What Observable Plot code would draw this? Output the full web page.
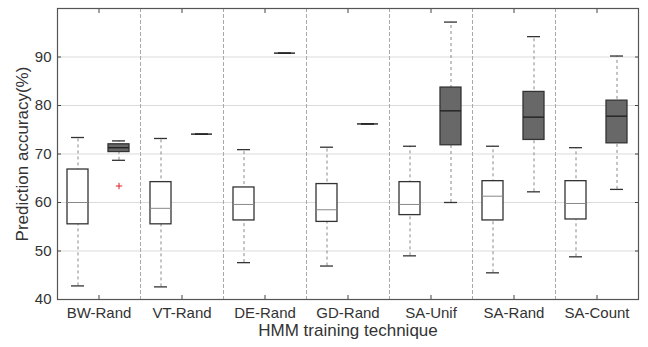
<!DOCTYPE html>
<html>
<head>
<meta charset="utf-8">
<script src="https://cdn.jsdelivr.net/npm/d3@7"></script>
<script src="https://cdn.jsdelivr.net/npm/@observablehq/plot@0.6"></script>
<style>
  html, body { margin: 0; padding: 0; background: #fff; }
  #chart { width: 648px; height: 347px; }
</style>
</head>
<body>
<div id="chart"></div>
<script>
// Training techniques along the horizontal axis
const techniques = ["BW-Rand", "VT-Rand", "DE-Rand", "GD-Rand", "SA-Unif", "SA-Rand", "SA-Count"];

// Open boxes: whisker low, lower quartile, median, upper quartile, whisker high
const openLow    = [42.8, 42.6, 47.6, 46.9, 49.0, 45.5, 48.8];
const openQ1     = [55.5, 55.5, 56.3, 56.0, 57.4, 56.3, 56.5];
const openMedian = [60.0, 58.8, 59.6, 58.5, 59.6, 61.3, 59.8];
const openQ3     = [66.8, 64.2, 63.1, 63.8, 64.2, 64.4, 64.4];
const openHigh   = [73.4, 73.2, 70.9, 71.4, 71.6, 71.6, 71.3];

// Shaded boxes
const shadedLow    = [68.7, 74.1, 90.8, 76.2, 60.0, 62.2, 62.7];
const shadedQ1     = [70.4, 74.1, 90.8, 76.2, 71.8, 72.9, 72.2];
const shadedMedian = [71.3, 74.1, 90.8, 76.2, 78.9, 77.6, 77.8];
const shadedQ3     = [72.0, 74.1, 90.8, 76.2, 83.7, 82.8, 81.0];
const shadedHigh   = [72.7, 74.1, 90.8, 76.2, 97.2, 94.2, 90.2];

// Outliers beyond the whiskers
const outlierTechnique = ["BW-Rand"];
const outlierSeries    = ["shaded"];
const outlierValue     = [63.4];

const yTicks = [40, 50, 60, 70, 80, 90];
const yGrid  = [50, 60, 70, 80, 90];

const summarize = (series, low, q1, median, q3, high) =>
  techniques.map((technique, i) => ({
    technique, series, low: low[i], q1: q1[i], median: median[i], q3: q3[i], high: high[i]
  }));

const openRows   = summarize("open", openLow, openQ1, openMedian, openQ3, openHigh);
const shadedRows = summarize("shaded", shadedLow, shadedQ1, shadedMedian, shadedQ3, shadedHigh);
const allRows = openRows.concat(shadedRows);
const outliers = outlierValue.map((value, i) => ({
  technique: outlierTechnique[i], series: outlierSeries[i], value
}));

const ink = "#333";
const box = (rows, fill, medianStroke, medianWidth) => [
  Plot.barY(rows, {fx: "technique", x: "series", y1: "q1", y2: "q3",
    fill, stroke: ink, strokeWidth: 1.3}),
  Plot.tickY(rows, {fx: "technique", x: "series", y: "median",
    stroke: medianStroke, strokeWidth: medianWidth})
];

const chart = Plot.plot({
  width: 648,
  height: 347,
  marginLeft: 55,
  marginRight: 9,
  marginTop: 8,
  marginBottom: 48,
  style: {fontFamily: "'Liberation Sans', Arial, sans-serif", fontSize: "15px", color: ink, background: "#fff"},
  fx: {domain: techniques, padding: 0, label: null},
  x: {domain: ["open", "shaded"], paddingInner: 0.476, paddingOuter: 0.23, axis: null},
  y: {domain: [40, 100], label: null},
  marks: [
    Plot.gridY(yGrid, {stroke: "#ccc", strokeOpacity: 0.7}),
    Plot.frame({anchor: "left", stroke: "#aaa", strokeDasharray: "3,3"}),
    // whiskers
    Plot.ruleX(allRows, {fx: "technique", x: "series", y1: "low", y2: "high",
      stroke: "#888", strokeDasharray: "3,3", strokeWidth: 1}),
    Plot.tickY(allRows, {fx: "technique", x: "series", y: "low", stroke: ink, strokeWidth: 1.3, insetLeft: 4, insetRight: 4}),
    Plot.tickY(allRows, {fx: "technique", x: "series", y: "high", stroke: ink, strokeWidth: 1.3, insetLeft: 4, insetRight: 4}),
    ...box(openRows, "#fff", "#888", 1),
    ...box(shadedRows, "#686868", "#222", 1.4),
    Plot.dot(outliers, {fx: "technique", x: "series", y: "value", symbol: "plus", r: 2.2, stroke: "#e02020", strokeWidth: 1}),
    // axes
    Plot.axisY({anchor: "left", ticks: yTicks, tickSize: 0, tickPadding: 6, label: null, fontSize: 15}),
    Plot.axisY({anchor: "left", ticks: yTicks, tickSize: -4, tickFormat: () => "", label: null, stroke: "#444"}),
    Plot.axisY({anchor: "right", ticks: yTicks, tickSize: -4, tickFormat: () => "", label: null, stroke: "#444"}),
    Plot.axisFx({anchor: "bottom", tickSize: 0, tickPadding: 8, label: null, fontSize: 15}),
    Plot.axisFx({anchor: "bottom", tickSize: -4, tickFormat: () => "", label: null, stroke: "#444"}),
    Plot.axisFx({anchor: "top", tickSize: -4, tickFormat: () => "", label: null, stroke: "#444"}),
    Plot.frame({facet: "super", stroke: "#555", strokeWidth: 1.2}),
    Plot.text(["HMM training technique"], {facet: "super", frameAnchor: "bottom", dy: 31,
      lineAnchor: "middle", textAnchor: "middle", fontSize: 17, fill: ink}),
    Plot.text(["Prediction accuracy(%)"], {facet: "super", frameAnchor: "left", dx: -35, rotate: -90,
      lineAnchor: "middle", textAnchor: "middle", fontSize: 17, fill: ink})
  ]
});

document.getElementById("chart").appendChild(chart);
</script>
</body>
</html>
